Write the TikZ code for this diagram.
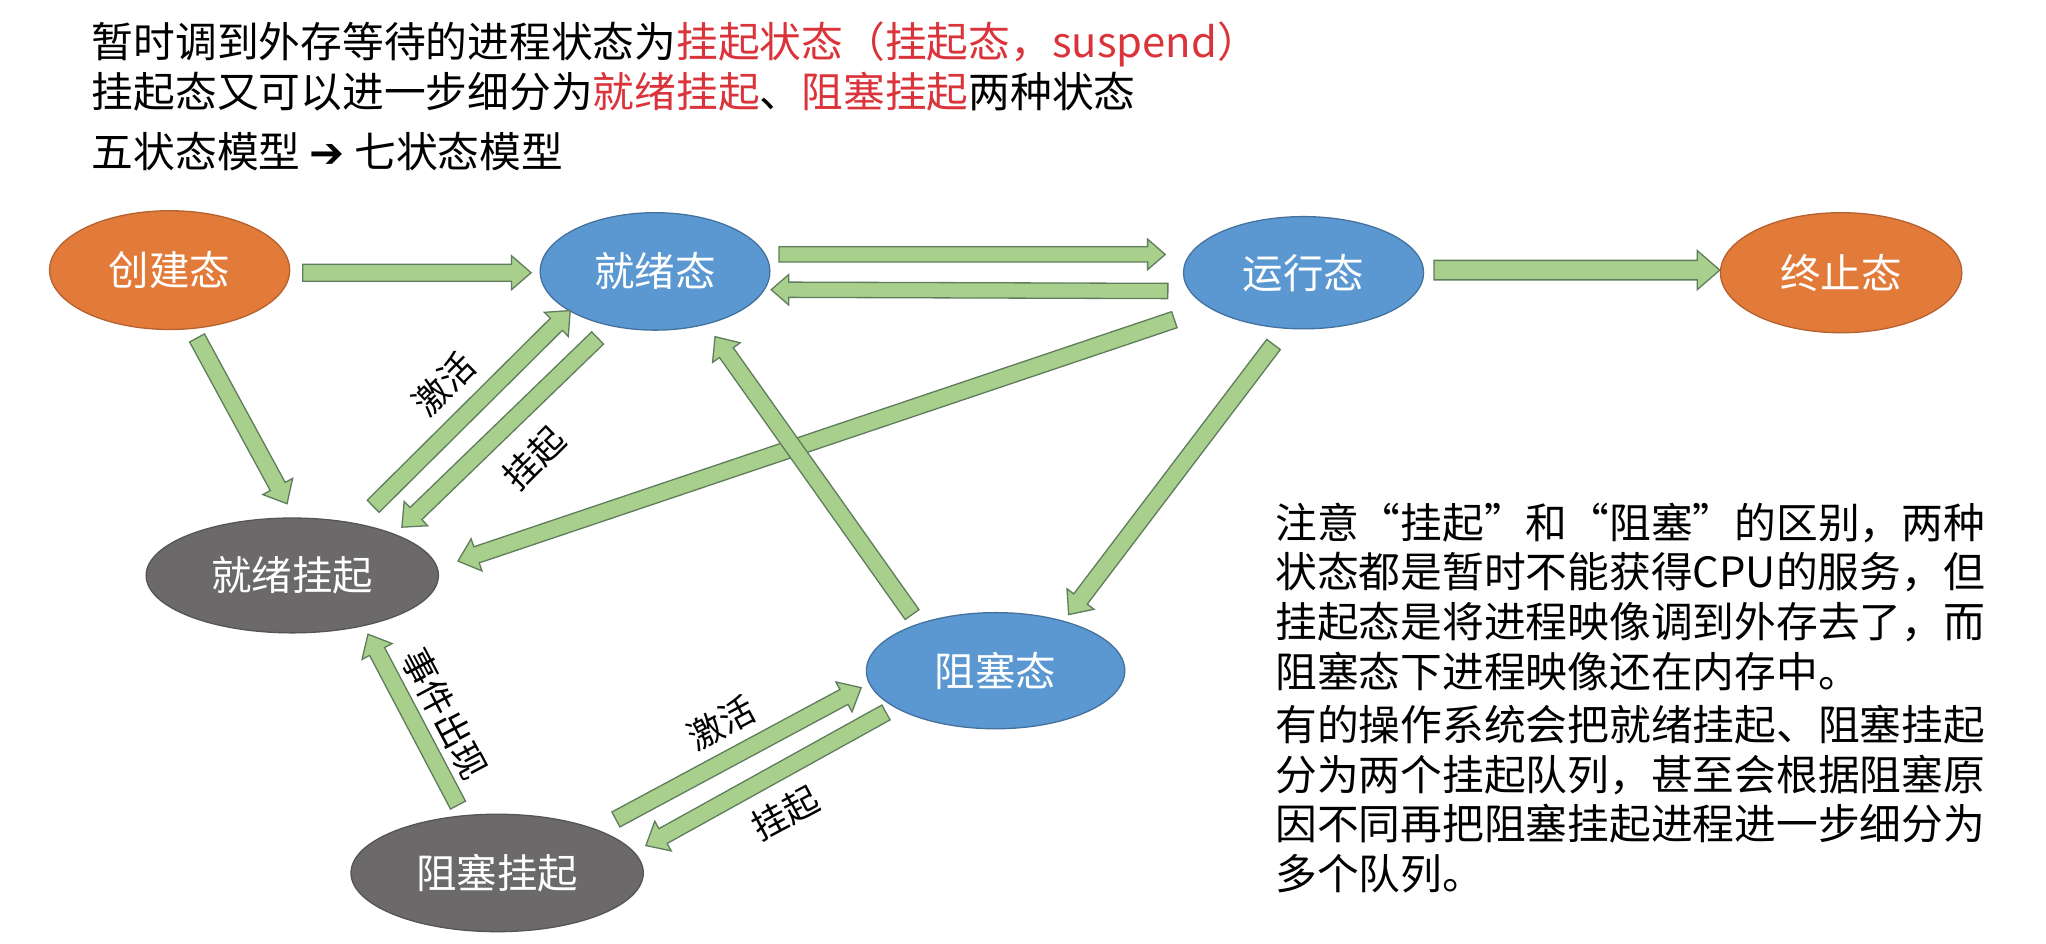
\documentclass[tikz,border=0pt]{standalone}
\usepackage{fontspec}
\setmainfont{Noto Sans CJK SC}
\newfontfamily\symfont{DejaVu Sans}
\newfontfamily\fwidfont[RawFeature=+fwid]{Noto Sans CJK SC}
\usetikzlibrary{shapes.geometric,calc}

\definecolor{stateorange}{RGB}{226,122,58}
\definecolor{stateblue}{RGB}{91,152,210}
\definecolor{stategray}{RGB}{108,105,107}
\definecolor{arrowgreen}{RGB}{168,207,140}
\definecolor{arrowline}{RGB}{95,125,92}
\definecolor{keyred}{RGB}{218,52,58}

\tikzset{
  state/.style={ellipse, inner sep=0pt, text=white, line width=0.5pt,
    font=\fontsize{15.5}{18}\selectfont},
  orangestate/.style={state, fill=stateorange, draw=stateorange!80!black},
  bluestate/.style={state, fill=stateblue, draw=stateblue!75!black},
  graystate/.style={state, fill=stategray, draw=stategray!80!black},
  headline/.style={anchor=west, inner sep=0pt, font=\fontsize{16}{19}\selectfont},
  note/.style={anchor=north west, align=left, inner sep=0pt, font=\fontsize{16}{19}\selectfont},
  edgelabel/.style={inner sep=0pt, font=\fontsize{13.5}{16}\selectfont},
  blockarrow/.style={fill=arrowgreen, draw=arrowline, line width=0.5pt, line join=miter}
}

% block arrow from #2 to #3, #1 scales its width
\newcommand{\blockarrow}[3][1]{%
  \coordinate (ba-s) at #2;
  \coordinate (ba-e) at #3;
  \coordinate (ba-n) at ($(ba-e)!#1*7.5pt!(ba-s)$);
  \filldraw[blockarrow] ($(ba-s)!#1*3.25pt!90:(ba-e)$) -- ($(ba-n)!#1*3.25pt!90:(ba-e)$)
    -- ($(ba-n)!#1*6.5pt!90:(ba-e)$) -- (ba-e) -- ($(ba-n)!#1*6.5pt!-90:(ba-e)$)
    -- ($(ba-n)!#1*3.25pt!-90:(ba-e)$) -- ($(ba-s)!#1*3.25pt!-90:(ba-e)$) -- cycle;
}
\newcommand{\fq}[1]{{\fwidfont“}#1{\fwidfont”}}

\begin{document}
\begin{tikzpicture}[x=0.5pt,y=-0.5pt]
\useasboundingbox (0,0) rectangle (1568,723.4);

% heading
\node[headline] (head1) at (70,34) {暂时调到外存等待的进程状态为\textcolor{keyred}{挂起状态（挂起态，suspend）}};
\node[headline] (head2) at (70,70) {挂起态又可以进一步细分为\textcolor{keyred}{就绪挂起}、\textcolor{keyred}{阻塞挂起}两种状态};
\node[headline] (head3) at (70,116) {五状态模型 {\symfont\bfseries ➔} 七状态模型};

% states
\node[orangestate, minimum width=92pt, minimum height=45.5pt] (create) at (130,207) {创建态};
\node[bluestate, minimum width=88pt, minimum height=45pt] (ready) at (502,208) {就绪态};
\node[bluestate, minimum width=92pt, minimum height=43pt] (running) at (999,209) {运行态};
\node[orangestate, minimum width=92.5pt, minimum height=46pt] (exit) at (1411,209) {终止态};
\node[graystate, minimum width=112pt, minimum height=44pt] (readysusp) at (224,441) {就绪挂起};
\node[bluestate, minimum width=99pt, minimum height=44.5pt] (blocked) at (763,514) {阻塞态};
\node[graystate, minimum width=112pt, minimum height=45pt] (blocksusp) at (381,669) {阻塞挂起};

% transitions
\blockarrow{($(create)+(102,2)$)}{($(ready)+(-95,1)$)}
\blockarrow[0.9]{($(ready)+(95,-13)$)}{($(running)+(-106,-14)$)}
\blockarrow[0.9]{($(running)+(-104,14)$)}{($(ready)+(89,14)$)}
\blockarrow[1.15]{($(running)+(100,-2)$)}{($(exit)+(-93,-2)$)}
\blockarrow{($(create)+(21,52)$)}{($(readysusp)+(-4,-55)$)}
\blockarrow{($(readysusp)+(62,-53)$)}{($(ready)+(-65,30)$)}
\blockarrow{($(ready)+(-44,51)$)}{($(readysusp)+(84,-37)$)}
\blockarrow{($(running)+(-99,36)$)}{($(readysusp)+(127,-11)$)}
\blockarrow{($(running)+(-23,55)$)}{($(blocked)+(56,-43)$)}
\blockarrow{($(blocked)+(-64,-43)$)}{($(ready)+(46,50)$)}
\blockarrow{($(blocksusp)+(-30,-52)$)}{($(readysusp)+(58,45)$)}
\blockarrow{($(blocksusp)+(91,-41)$)}{($(blocked)+(-103,13)$)}
\blockarrow{($(blocked)+(-84,32)$)}{($(blocksusp)+(114,-21)$)}

% labels
\node[edgelabel, rotate=45] (activate1) at (340,294) {激活};
\node[edgelabel, rotate=45] (suspend1) at (409,351) {挂起};
\node[edgelabel, rotate=-62] (event) at (341,547) {事件出现};
\node[edgelabel, rotate=28] (activate2) at (553,554) {激活};
\node[edgelabel, rotate=28] (suspend2) at (602,623) {挂起};

% note
\node[note] (remark) at (977,385) {注意\fq{挂起}和\fq{阻塞}的区别，两种\\
状态都是暂时不能获得CPU的服务，但\\
挂起态是将进程映像调到外存去了，而\\
阻塞态下进程映像还在内存中。\\[1.5pt]
有的操作系统会把就绪挂起、阻塞挂起\\
分为两个挂起队列，甚至会根据阻塞原\\
因不同再把阻塞挂起进程进一步细分为\\
多个队列。};
\end{tikzpicture}
\end{document}
